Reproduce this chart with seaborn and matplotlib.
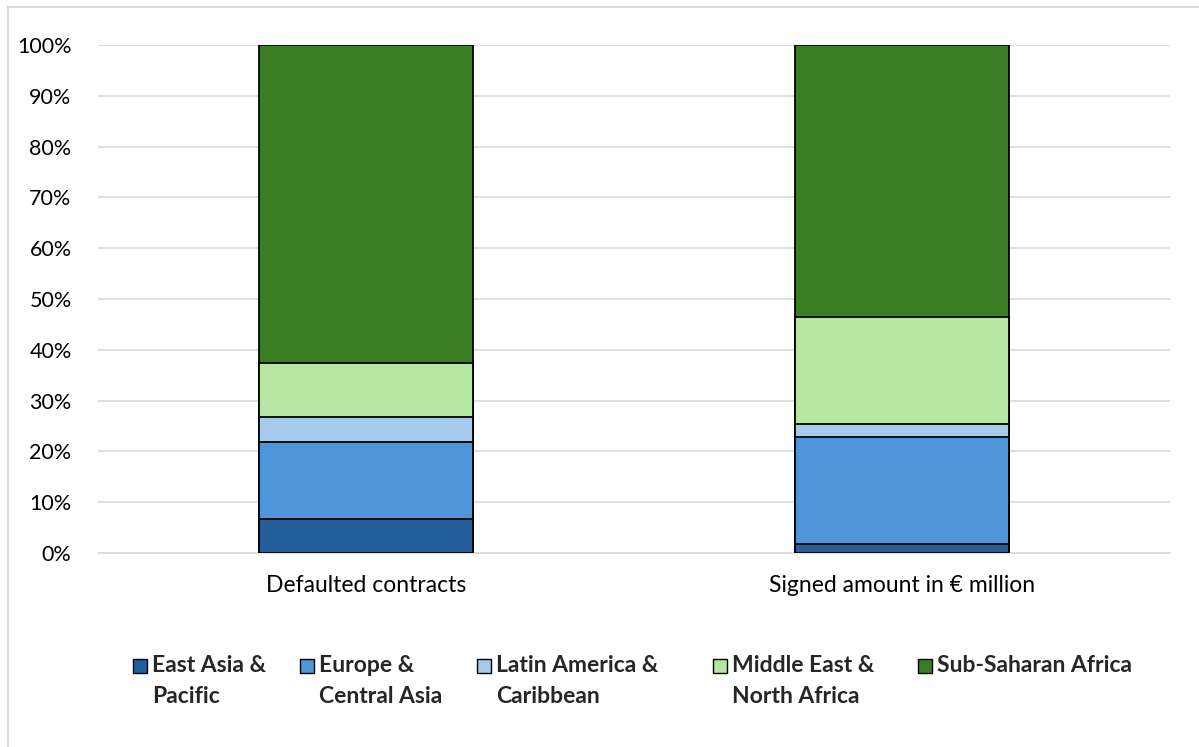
import matplotlib
matplotlib.use("Agg")
import matplotlib.pyplot as plt
import matplotlib.patches as mpatches
import numpy as np
import pandas as pd
import seaborn as sns

# Share of each region (%) for the two measures
measures = ["Defaulted contracts", "Signed amount in € million"]
regions = ["East Asia &\nPacific", "Europe &\nCentral Asia", "Latin America &\nCaribbean",
           "Middle East &\nNorth Africa", "Sub-Saharan Africa"]
east_asia_pacific = [6.6, 1.8]
europe_central_asia = [15.3, 21.0]
latin_america_caribbean = [4.8, 2.5]
middle_east_north_africa = [10.7, 21.1]
sub_saharan_africa = [62.6, 53.6]
y_ticks = [0, 10, 20, 30, 40, 50, 60, 70, 80, 90, 100]

colors = ["#215E9A", "#4E95D9", "#A6CAEC", "#B5E6A2", "#3B7D23"]

series = [east_asia_pacific, europe_central_asia, latin_america_caribbean,
          middle_east_north_africa, sub_saharan_africa]

sns.set_theme(style="white")
plt.rcParams["font.family"] = ["Lato", "DejaVu Sans"]

fig = plt.figure(figsize=(11.99, 7.47), dpi=100)
W, H = 1199, 747
ax = fig.add_axes([98 / W, 1 - 553 / H, (1170 - 98) / W, (553 - 45) / H])

# Stacked bars: draw cumulative totals from the top segment down
cum = np.cumsum(np.array(series), axis=0)
for i in range(len(series) - 1, -1, -1):
    df = pd.DataFrame({"measure": measures, "value": cum[i]})
    sns.barplot(data=df, x="measure", y="value", color=colors[i], width=0.4,
                edgecolor="black", linewidth=1.3, saturation=1, ax=ax, zorder=3)

ax.set_ylim(0, 100)
ax.set_xlim(-0.5, 1.5)
ax.set_yticks(y_ticks)
ax.set_yticklabels([f"{t}%" for t in y_ticks])
ax.yaxis.grid(True, color="#D9D9D9", linewidth=1.2, zorder=0)
ax.set_axisbelow(True)
ax.set_xlabel("")
ax.set_ylabel("")
for s in ["top", "right", "left"]:
    ax.spines[s].set_visible(False)
ax.spines["bottom"].set_color("#D9D9D9")
ax.spines["bottom"].set_linewidth(1.2)
ax.tick_params(axis="both", length=0, colors="black")
ax.tick_params(axis="y", pad=19, labelsize=15.5)
ax.tick_params(axis="x", pad=16, labelsize=16.5)

# Legend drawn line by line so each swatch sits beside the first text line
legend_x = [133, 300, 477, 713, 918]
for x, c, lab in zip(legend_x, colors, regions):
    fig.patches.append(mpatches.Rectangle((x / W, 1 - 673 / H), 14 / W, 14 / H,
                                          transform=fig.transFigure, facecolor=c,
                                          edgecolor="black", linewidth=1.0))
    for k, line in enumerate(lab.split("\n")):
        fig.text((x + 19) / W, 1 - (672 + 31 * k) / H, line, fontsize=16.5,
                 fontweight="bold", ha="left", va="baseline")

# Outer frame (runs off the right and bottom edges)
fig.patches.append(mpatches.Rectangle((8 / W, -10 / H), (W + 20) / W, (H + 3) / H,
                                      transform=fig.transFigure, fill=False,
                                      edgecolor="#D9D9D9", linewidth=1.5))

fig.savefig("out.png", dpi=100)
